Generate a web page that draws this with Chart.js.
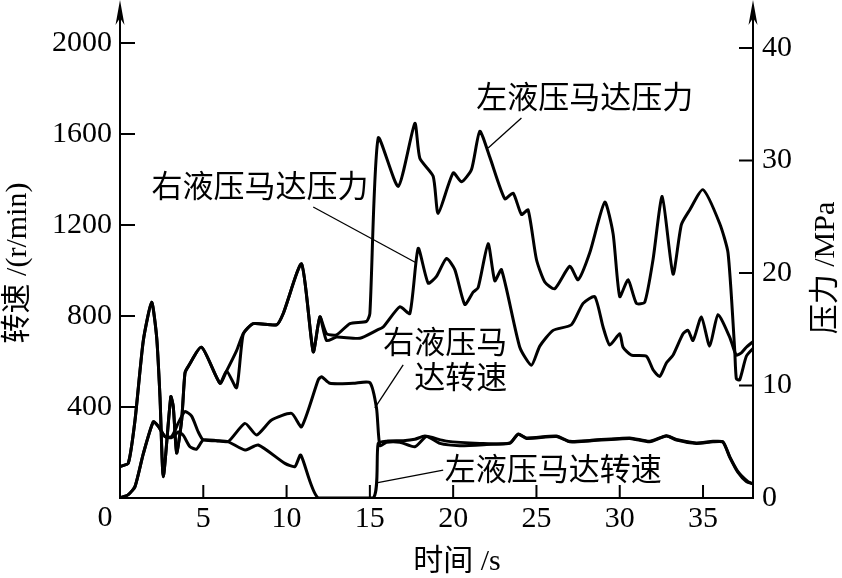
<!DOCTYPE html>
<html>
<head>
<meta charset="utf-8">
<script src="https://cdn.jsdelivr.net/npm/chart.js@4.4.1/dist/chart.umd.min.js"></script>
<style>
  html, body { margin: 0; padding: 0; background: #fff; }
  #wrap { width: 842px; height: 578px; }
</style>
</head>
<body>
<div id="wrap"><canvas id="chart" width="842" height="578"></canvas></div>
<script>
// tick labels
const timeTicks = [0, 5, 10, 15, 20, 25, 30, 35];
const speedTicks = [0, 400, 800, 1200, 1600, 2000];
const pressureTicks = [0, 10, 20, 30, 40];

// [time s, pressure MPa]
const leftPressure = [
  [0, 2.8], [0.5, 3.1], [0.9, 6.9], [1.4, 14.0], [1.9, 17.4], [2.2, 14.3], [2.4, 9.0], [2.6, 1.9],
  [3.05, 9.0], [3.2, 8.1], [3.4, 4.0], [3.7, 6.9], [3.9, 11.1], [4.1, 11.7], [4.9, 13.4], [6.0, 10.2],
  [6.4, 11.3], [7.0, 9.8], [7.4, 14.6], [8.0, 15.5], [9.4, 15.4], [9.8, 16.4], [10.9, 20.8], [11.6, 13.0],
  [12.0, 16.1], [12.4, 14.6], [13.0, 14.5], [13.8, 15.5], [14.8, 15.7], [15.0, 16.4], [15.5, 32.0],
  [16.7, 27.7], [17.7, 33.3], [18.0, 30.2], [18.8, 28.6], [19.1, 25.3], [20.0, 28.9], [20.5, 28.1],
  [21.1, 29.2], [21.6, 32.6], [22.2, 30.3], [23.1, 26.6], [23.6, 27.1], [24.1, 25.2], [24.5, 25.6],
  [25.0, 21.2], [25.5, 19.2], [26.1, 18.6], [27.0, 20.6], [27.5, 19.4], [28.2, 21.8], [29.1, 26.3],
  [29.6, 23.5], [30.0, 17.9], [30.5, 19.4], [31.0, 17.3], [31.5, 17.4], [32.0, 21.2], [32.55, 26.8],
  [33.2, 19.9], [33.7, 24.3], [34.2, 25.6], [35.0, 27.4], [36.0, 24.4], [36.5, 21.8], [36.9, 13.2],
  [37.0, 10.6], [37.2, 10.5], [37.6, 12.6], [38, 13.3]
];

const rightPressure = [
  [0, 2.8], [0.5, 3.1], [0.9, 6.9], [1.4, 14.0], [1.9, 17.4], [2.2, 14.3], [2.4, 9.0], [2.6, 1.9],
  [3.05, 9.0], [3.2, 8.1], [3.4, 4.0], [3.7, 6.9], [3.9, 11.1], [4.1, 11.7], [4.9, 13.4], [6.0, 10.2],
  [6.4, 11.3], [7.0, 13.1], [7.4, 14.6], [8.0, 15.5], [9.4, 15.4], [9.8, 16.4], [10.9, 20.8], [11.6, 13.0],
  [12.0, 16.1], [12.4, 14.0], [13.0, 14.3], [14.4, 14.2], [15.4, 14.9], [15.8, 15.2], [16.8, 17.0],
  [17.4, 16.4], [17.9, 22.2], [18.5, 19.1], [19.0, 19.7], [19.6, 21.3], [20.1, 20.3], [20.7, 17.2],
  [21.2, 18.3], [21.5, 18.7], [22.1, 22.6], [22.5, 19.3], [22.9, 20.3], [24.0, 13.4], [24.7, 11.8],
  [25.2, 13.5], [26.0, 14.9], [27.1, 15.4], [27.8, 17.3], [28.5, 17.9], [29.0, 15.2], [29.4, 13.6],
  [30.0, 14.6], [30.2, 13.4], [30.7, 12.7], [31.6, 12.6], [32.0, 11.4], [32.4, 10.8], [32.8, 12.0],
  [33.2, 12.7], [33.8, 14.6], [34.1, 14.9], [34.4, 14.0], [34.9, 16.1], [35.4, 13.5], [35.9, 16.3],
  [36.6, 14.3], [36.9, 13.0], [37.0, 12.7], [37.3, 12.9], [37.6, 13.4], [38, 13.9]
];

// [time s, speed r/min]
const rightSpeed = [
  [0, 0], [0.5, 15], [0.9, 50], [1.4, 195], [2.0, 335], [2.3, 315], [2.7, 270], [3.1, 270], [3.5, 330],
  [3.9, 380], [4.3, 360], [4.7, 290], [5.0, 255], [5.8, 252], [6.5, 248], [7.5, 328], [8.2, 277],
  [9.1, 343], [10.3, 372], [10.9, 313], [11.9, 519], [12.1, 533], [12.6, 504], [14.0, 504], [15.0, 507],
  [15.4, 394], [15.6, 230], [16.0, 245], [16.8, 245], [17.7, 225], [18.4, 270], [19.2, 240], [20.4, 230],
  [22.0, 235], [23.4, 242], [23.9, 280], [24.4, 262], [26.2, 270], [27.0, 247], [28.2, 251], [30.6, 262],
  [31.8, 247], [32.8, 272], [33.4, 255], [34.6, 240], [35.6, 247], [36.2, 245], [36.6, 180], [37.1, 112],
  [37.6, 72], [38, 62]
];

const leftSpeed = [
  [0, 0], [0.5, 15], [0.9, 50], [1.4, 195], [2.0, 335], [2.3, 315], [2.7, 270], [3.1, 265], [3.5, 290],
  [3.8, 275], [4.2, 225], [4.6, 215], [5.0, 255], [5.8, 252], [6.5, 247], [7.5, 211], [8.3, 233],
  [9.9, 152], [10.5, 138], [10.85, 189], [11.9, 0], [15.2, 0], [15.5, 240], [16.0, 250], [17.0, 252],
  [17.7, 258], [18.3, 272], [19.6, 250], [21.6, 240], [23.4, 240], [23.9, 281], [24.4, 264], [26.2, 272],
  [27.0, 249], [28.2, 253], [30.6, 264], [31.8, 249], [32.8, 274], [33.4, 257], [34.6, 242], [35.6, 249],
  [36.2, 247], [36.6, 182], [37.1, 116], [37.7, 72], [38, 62]
];

const SERIF = "'Liberation Serif', 'Noto Sans CJK SC', serif";
const toPoints = arr => arr.map(([x, y]) => ({ x, y }));

const line = (label, data, axis) => ({
  label,
  data: toPoints(data),
  yAxisID: axis,
  borderColor: '#000',
  borderWidth: 3,
  pointRadius: 0,
  tension: 0.2,
  fill: false
});

const decor = {
  id: 'decor',
  afterDraw(chart) {
    const { ctx, chartArea: a, scales: { x, y, y1 } } = chart;
    ctx.save();
    ctx.strokeStyle = '#000';
    ctx.fillStyle = '#000';

    // ticks pointing inward
    ctx.lineWidth = 2;
    ctx.beginPath();
    speedTicks.forEach(v => {
      if (!v) return;
      const py = y.getPixelForValue(v);
      ctx.moveTo(a.left, py); ctx.lineTo(a.left + 15, py);
    });
    pressureTicks.forEach(v => {
      if (!v) return;
      const py = y1.getPixelForValue(v);
      ctx.moveTo(a.right, py); ctx.lineTo(a.right - 14, py);
    });
    timeTicks.forEach(v => {
      if (!v) return;
      const px = x.getPixelForValue(v);
      ctx.moveTo(px, a.bottom); ctx.lineTo(px, a.bottom - 13);
    });
    ctx.stroke();

    // arrows on both vertical axes
    [a.left, a.right].forEach(px => {
      ctx.beginPath(); ctx.moveTo(px, a.top); ctx.lineTo(px, 6); ctx.stroke();
      ctx.beginPath();
      ctx.moveTo(px, 0); ctx.lineTo(px - 4.5, 25); ctx.lineTo(px, 18); ctx.lineTo(px + 4.5, 25);
      ctx.closePath(); ctx.fill();
    });

    // "0" of the time axis sits left of the origin
    ctx.font = '30px ' + SERIF;
    ctx.textAlign = 'center';
    ctx.textBaseline = 'middle';
    ctx.fillText('0', x.getPixelForValue(0) - 15, a.bottom + 20);

    // axis titles
    ctx.fillText('时间 /s', 457, 562);
    [['转速 /(r/min)', 18, 263], ['压力 /MPa', 826, 268]].forEach(([t, px, py]) => {
      ctx.save();
      ctx.translate(px, py);
      ctx.rotate(-Math.PI / 2);
      ctx.fillText(t, 0, 0);
      ctx.restore();
    });

    // curve labels and leaders (time, r/min)
    const P = (t, v) => [x.getPixelForValue(t), y.getPixelForValue(v)];
    ctx.font = '31px ' + SERIF;
    const text = (s, t, v, align) => {
      const [px, py] = P(t, v);
      ctx.textAlign = align;
      ctx.fillText(s, px, py);
    };
    text('左液压马达压力', 27.9, 1750, 'center');
    text('右液压马达压力', 8.4, 1358, 'center');
    text('右液压马', 23.25, 673, 'right');
    text('达转速', 23.25, 519, 'right');
    text('左液压马达转速', 19.5, 114, 'left');

    ctx.lineWidth = 1.3;
    [
      [24.1, 1670, 22.1, 1538],
      [11.6, 1279, 17.8, 1033],
      [17.0, 585, 15.3, 396],
      [19.4, 123, 15.4, 66]
    ].forEach(([t1, v1, t2, v2]) => {
      const [x1, y1p] = P(t1, v1);
      const [x2, y2p] = P(t2, v2);
      ctx.beginPath(); ctx.moveTo(x1, y1p); ctx.lineTo(x2, y2p); ctx.stroke();
    });
    ctx.restore();
  }
};

const tickFont = { family: SERIF, size: 30 };

// fixed axis box sizes, no extra label padding, so the plot area stays put
const fixBox = (w, h) => s => {
  if (w) s.width = w;
  if (h) s.height = h;
  s.paddingTop = 0; s.paddingBottom = 0; s.paddingLeft = 0; s.paddingRight = 0;
};

new Chart(document.getElementById('chart'), {
  type: 'line',
  data: {
    datasets: [
      line('左液压马达压力', leftPressure, 'y1'),
      line('右液压马达压力', rightPressure, 'y1'),
      line('右液压马达转速', rightSpeed, 'y'),
      line('左液压马达转速', leftSpeed, 'y')
    ]
  },
  options: {
    responsive: false,
    animation: false,
    layout: { padding: { top: 12, left: 0, right: 0, bottom: 0 } },
    plugins: { legend: { display: false }, tooltip: { enabled: false } },
    scales: {
      x: {
        type: 'linear',
        min: 0,
        max: 38,
        afterBuildTicks: s => { s.ticks = timeTicks.map(value => ({ value })); },
        afterFit: fixBox(0, 80),
        grid: { display: false, drawTicks: false },
        border: { display: true, color: '#000', width: 2 },
        ticks: { font: tickFont, color: '#000', padding: 3, maxRotation: 0, callback: v => (v === 0 ? '' : v) }
      },
      y: {
        position: 'left',
        min: 0,
        max: 2136,
        afterBuildTicks: s => { s.ticks = speedTicks.map(value => ({ value })); },
        afterFit: fixBox(120, 0),
        grid: { display: false, drawTicks: false },
        border: { display: true, color: '#000', width: 2 },
        ticks: { font: tickFont, color: '#000', padding: 8, callback: v => (v === 0 ? '' : v) }
      },
      y1: {
        position: 'right',
        min: 0,
        max: 43.2,
        afterBuildTicks: s => { s.ticks = pressureTicks.map(value => ({ value })); },
        afterFit: fixBox(89, 0),
        grid: { display: false, drawTicks: false },
        border: { display: true, color: '#000', width: 2 },
        ticks: { font: tickFont, color: '#000', padding: 9 }
      }
    }
  },
  plugins: [decor]
});
</script>
</body>
</html>
